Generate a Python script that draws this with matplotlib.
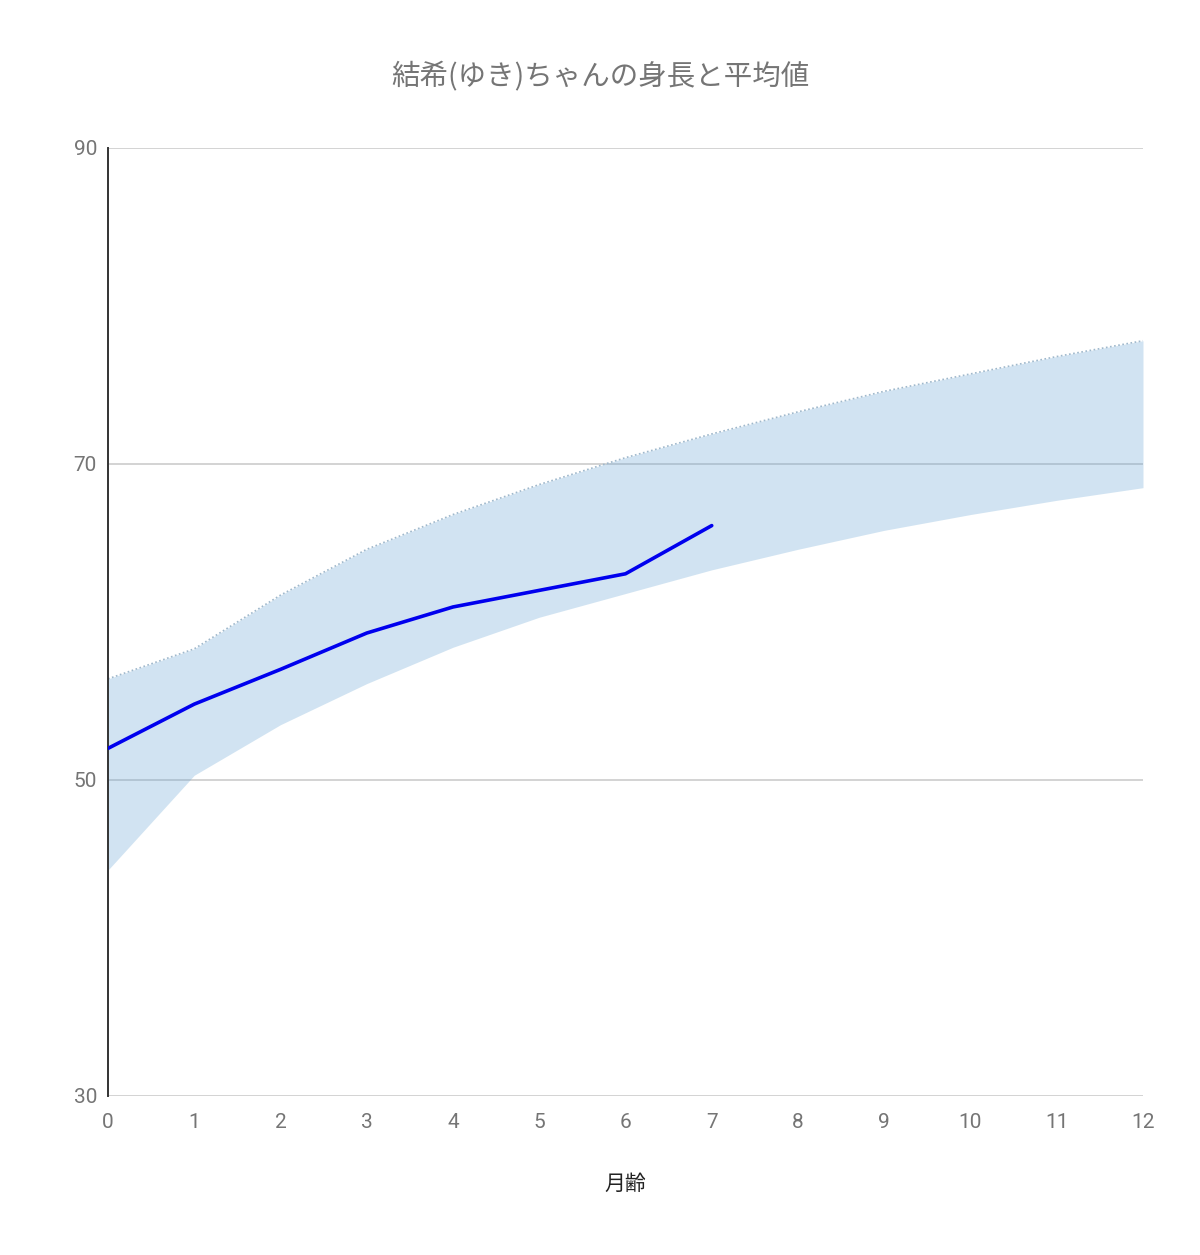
import numpy as np
import matplotlib.pyplot as plt

# Months of age
months = [0, 1, 2, 3, 4, 5, 6, 7, 8, 9, 10, 11, 12]

# Height of Yuki (cm), measured up to month 7
yuki_months = [0, 1, 2, 3, 4, 5, 6, 7]
yuki_height = [52.0, 54.8, 57.0, 59.3, 60.95, 62.0, 63.05, 66.1]

# Reference band (lower / upper)
band_upper = [56.4, 58.3, 61.7, 64.6, 66.8, 68.7, 70.4, 71.9, 73.3, 74.6, 75.7, 76.8, 77.8]
band_lower = [44.3, 50.3, 53.5, 56.1, 58.4, 60.3, 61.8, 63.3, 64.6, 65.8, 66.8, 67.7, 68.5]

y_ticks = [30, 50, 70, 90]

plt.rcParams['font.family'] = ['Roboto', 'Noto Sans CJK JP', 'DejaVu Sans']

fig = plt.figure(figsize=(12, 12.55), dpi=100)
ax = fig.add_axes([0.09, 0.1267, 0.8625, 0.7554])

# Band
ax.fill_between(months, band_lower, band_upper, color='#69a5d4', alpha=0.3,
                linewidth=0, zorder=2)
ax.plot(months, band_upper, color='#9fb8cc', linestyle=(0, (1, 1.5)),
        linewidth=1.2, zorder=2)

# Yuki's line
ax.plot(yuki_months, yuki_height, color='#0000ee', linewidth=2.6, zorder=3,
        solid_capstyle='round')

ax.set_xlim(0, 12)
ax.set_ylim(30, 90)
ax.set_xticks(months)
ax.set_yticks(y_ticks)
ax.grid(axis='y', color='#cccccc', linewidth=1.2, zorder=1)
ax.set_axisbelow(True)

for side in ('top', 'right', 'bottom'):
    ax.spines[side].set_visible(False)
ax.spines['left'].set_color('#333333')
ax.spines['left'].set_linewidth(1.4)

ax.tick_params(axis='both', length=0, labelsize=15, labelcolor='#757575')
ax.tick_params(axis='x', pad=12)
ax.tick_params(axis='y', pad=8)

ax.set_xlabel('月齢', family=['Noto Sans CJK JP', 'DejaVu Sans'], fontsize=15,
              color='#222222', labelpad=30)
fig.suptitle('結希(ゆき)ちゃんの身長と平均値', family=['Noto Sans CJK JP', 'DejaVu Sans'],
             fontsize=20.5, color='#757575', y=0.951)

fig.savefig('out.png', dpi=100)
